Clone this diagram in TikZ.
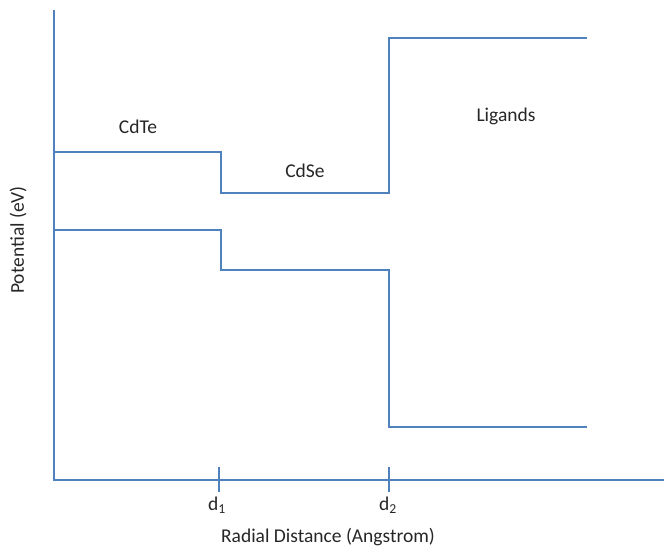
\documentclass[tikz,border=0pt]{standalone}
\usepackage{fontspec}
\setmainfont{Carlito}
\definecolor{lineblue}{HTML}{4F81BD}
\begin{document}
\begin{tikzpicture}[x=1pt,y=-1pt,
  lin/.style={draw=lineblue,line width=2.6pt},
  lbl/.style={font=\fontsize{19.5}{22}\selectfont,text=black!85,inner sep=0pt}]
\useasboundingbox (0,0) rectangle (664,546);
% axes
\coordinate (o) at (54,480);
\coordinate (ytop) at (54,10);
\coordinate (xend) at (664,480);
\draw[lin] (ytop) -- (o) -- (xend);
% ticks
\coordinate (t1a) at (219,467); \coordinate (t1b) at (219,492);
\coordinate (t2a) at (389,467); \coordinate (t2b) at (389,492);
\draw[lin] (t1a) -- (t1b);
\draw[lin] (t2a) -- (t2b);
% upper band
\draw[lin] (54,152) -- (221,152) -- (221,193) -- (389,193) -- (389,38) -- (587,38);
% lower band
\draw[lin] (54,230) -- (221,230) -- (221,270) -- (389,270) -- (389,427) -- (587,427);
% labels
\node[lbl] (cdte) at (138,127) {CdTe};
\node[lbl] (cdse) at (305,171) {CdSe};
\node[lbl] (lig) at (506,116) {Ligands};
\node[lbl] (d1) at (217,505) {d\textsubscript{1}};
\node[lbl] (d2) at (388,505) {d\textsubscript{2}};
\node[lbl] (xl) at (328,537) {Radial Distance (Angstrom)};
\node[lbl,rotate=90] (yl) at (18,240) {Potential (eV)};
\end{tikzpicture}
\end{document}
